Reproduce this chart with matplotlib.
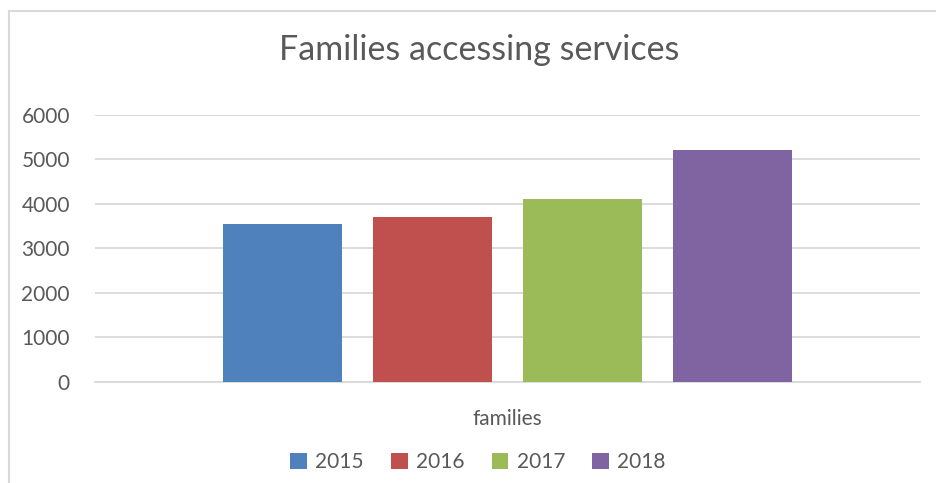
import matplotlib
matplotlib.use("Agg")
import matplotlib.pyplot as plt
from matplotlib.patches import Rectangle

categories = ["families"]
years = ["2015", "2016", "2017", "2018"]
values = [3550, 3690, 4110, 5210]
colors = ["#4f81bd", "#c0504d", "#9bbb59", "#8064a2"]
yticks = [0, 1000, 2000, 3000, 4000, 5000, 6000]

plt.rcParams['font.family'] = ['Lato', 'DejaVu Sans']
txt = "#595959"

fig = plt.figure(figsize=(9.37, 4.83), dpi=100)
ax = fig.add_axes([95/937, 1-381.6/483, 825/937, (381.6-114.7)/483])

step = 150/825
width = 119/825
for i, (yr, v, c) in enumerate(zip(years, values, colors)):
    ax.bar([0 + (i-1.5)*step], [v], width=width, color=c, label=yr, zorder=3)

ax.set_xlim(-0.5, 0.5)
ax.set_ylim(0, 6000)
ax.set_yticks(yticks)
ax.set_yticklabels([str(t) for t in yticks], fontsize=15, color=txt)
ax.set_xticks([0])
ax.set_xticklabels(categories, fontsize=15, color=txt)
ax.tick_params(axis='y', length=0, pad=18)
ax.tick_params(axis='x', length=0, pad=20)
ax.grid(axis='y', color='#d9d9d9', linewidth=1.3, zorder=0)
for s in ['top', 'right', 'left']:
    ax.spines[s].set_visible(False)
ax.spines['bottom'].set_color('#d9d9d9')
ax.spines['bottom'].set_linewidth(1.3)

fig.text(479/937, 1-50/483, "Families accessing services", fontsize=24.5, color=txt,
         ha='center', va='center')

leg = fig.legend(loc='center', bbox_to_anchor=(478/937, 1-462/483), ncol=4, frameon=False,
                 fontsize=15, handlelength=0.8, handleheight=0.8, columnspacing=1.3,
                 handletextpad=0.4, labelcolor=txt)

fig.patches.append(Rectangle((9/937, -0.1), 1.2, 1-11/483+0.1, transform=fig.transFigure,
                             fill=False, edgecolor='#d9d9d9', linewidth=1.5))

fig.savefig("out.png", dpi=100)
